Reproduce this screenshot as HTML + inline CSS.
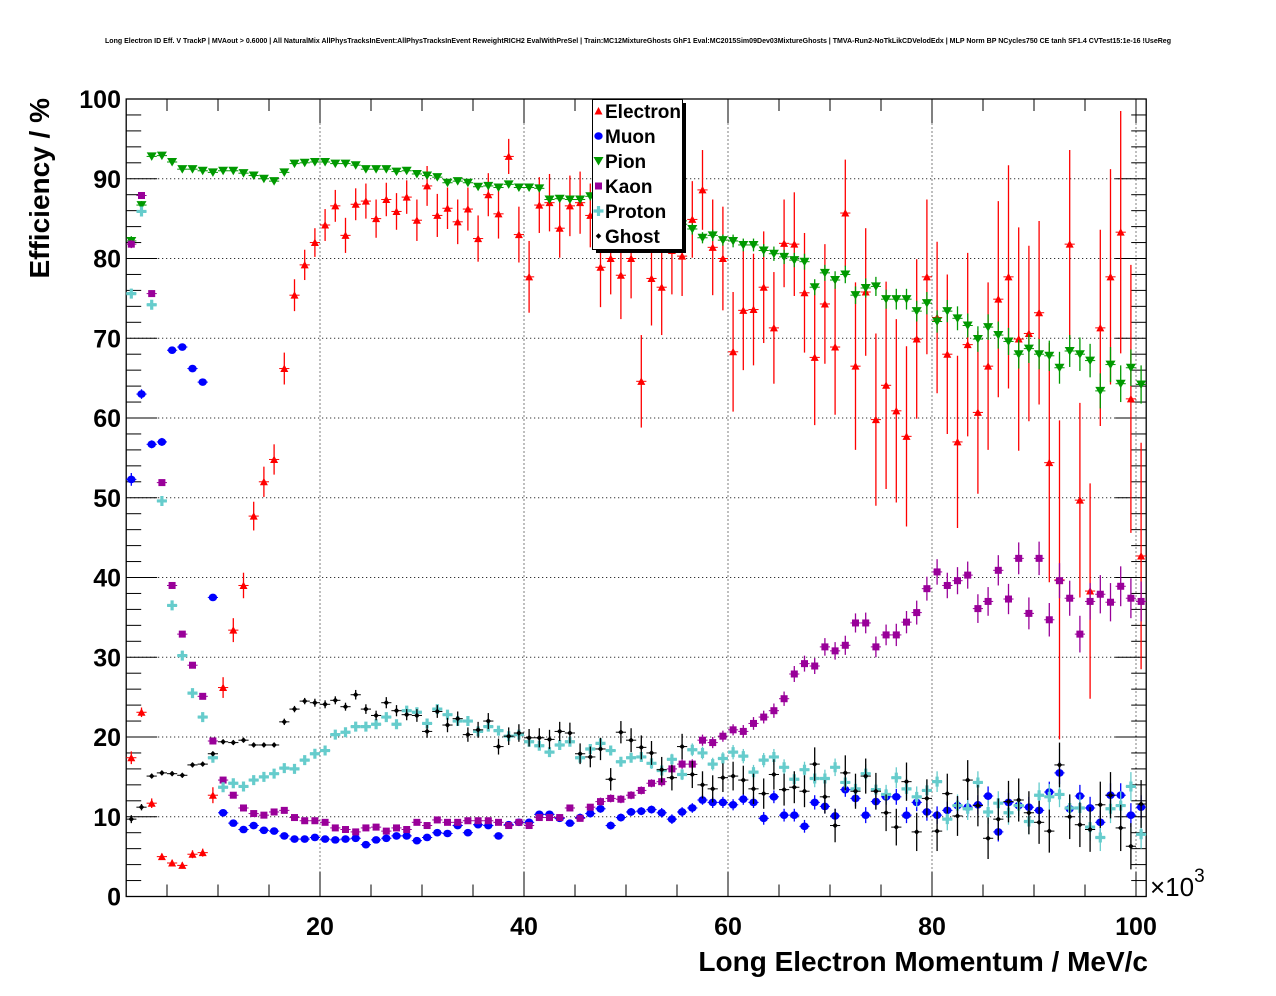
<!DOCTYPE html>
<html><head><meta charset="utf-8">
<style>
html,body{margin:0;padding:0;background:#fff;}
svg{display:block;font-family:"Liberation Sans",Arial,sans-serif;}
</style></head>
<body>
<svg id="chart" width="1276" height="996" viewBox="0 0 1276 996" xmlns="http://www.w3.org/2000/svg">
<rect x="0" y="0" width="1276" height="996" fill="#fff"/>
<text x="638" y="43" text-anchor="middle" font-size="7" font-weight="bold" textLength="1066" lengthAdjust="spacingAndGlyphs">Long Electron ID Eff. V TrackP | MVAout &gt; 0.6000 | All NaturalMix AllPhysTracksInEvent:AllPhysTracksInEvent ReweightRICH2 EvalWithPreSel | Train:MC12MixtureGhosts GhF1 Eval:MC2015Sim09Dev03MixtureGhosts | TMVA-Run2-NoTkLikCDVelodEdx | MLP Norm BP NCycles750 CE tanh SF1.4 CVTest15:1e-16 !UseReg</text>
<g id="grid"></g>
<g id="axes"></g>
<g id="series"></g>
<text transform="translate(49,98) rotate(-90)" text-anchor="end" font-size="28" font-weight="bold">Efficiency / %</text>
<text x="1148" y="971" text-anchor="end" font-size="28" font-weight="bold">Long Electron Momentum / MeV/c</text>
<text x="1150" y="896" font-size="26">×10<tspan font-size="19" dy="-14">3</tspan></text>
<g id="legend">
<rect x="596" y="103" width="90" height="150" fill="#000"/>
<rect x="592.5" y="99.5" width="90" height="150" fill="#fff" stroke="#000" stroke-width="1"/>
</g>
</svg>
<script>
const categories = [];
for (let i = 1; i <= 100; i++) categories.push(i + 0.5);
const electron = [17.4,23.1,11.7,5.0,4.2,3.9,5.3,5.5,12.7,26.2,33.4,39.0,47.7,52.0,54.8,66.2,75.4,79.2,82.0,84.2,86.6,82.9,86.8,87.2,85.0,87.4,85.9,87.7,84.8,89.1,85.4,86.3,84.6,86.2,82.5,88.0,85.6,92.8,83.0,77.7,86.7,87.0,83.8,86.6,87.0,85.4,78.9,80.0,77.9,80.0,64.6,77.5,76.4,81.0,80.3,84.9,88.6,81.4,80.0,68.3,73.5,73.6,76.4,71.3,81.9,81.8,75.7,67.6,74.3,68.9,85.7,66.5,75.8,59.8,64.1,60.9,57.7,69.9,77.7,72.6,68.0,57.0,69.2,60.7,66.5,74.9,77.7,69.9,70.6,73.2,54.4,39.7,81.8,49.7,38.3,71.3,77.7,83.3,62.4,42.7];
const electronErr = [0.8,0.6,0.6,0.4,0.4,0.4,0.5,0.5,1.0,1.3,1.5,1.6,1.8,1.9,1.9,2.0,2.0,1.9,1.8,2.0,2.0,2.2,2.0,2.2,2.4,2.1,2.3,2.1,2.6,2.5,2.7,2.6,2.8,2.7,2.9,2.7,3.1,2.2,3.5,4.5,3.5,3.6,3.7,3.8,3.9,4.0,5.0,4.5,5.5,5.0,5.8,5.9,6.0,5.5,5.0,4.8,5.0,6.0,6.5,7.5,7.5,7.0,7.0,7.0,5.5,6.5,7.5,8.5,7.5,8.5,6.7,10.5,8.0,10.8,13.0,11.5,11.3,10.0,9.7,9.5,10.0,10.8,11.5,10.2,10.5,12.3,14.0,14.0,11.0,11.5,15.0,20.0,11.8,12.2,13.5,12.3,13.5,15.2,16.8,14.2];
const muon = [52.3,63.0,56.7,57.0,68.5,68.9,66.2,64.5,37.5,10.5,9.2,8.4,8.9,8.3,8.2,7.6,7.2,7.2,7.4,7.2,7.1,7.2,7.3,6.5,7.1,7.3,7.6,7.6,7.0,7.4,8.0,7.9,8.9,8.0,9.0,8.9,7.6,9.0,9.3,9.3,10.3,10.3,9.8,9.2,9.9,10.4,11.0,8.9,9.9,10.6,10.7,10.9,10.5,9.7,10.6,11.1,12.1,11.8,11.8,11.5,12.2,11.8,9.8,12.5,10.2,10.2,8.8,11.8,11.3,10.1,13.4,12.3,10.2,11.9,12.5,12.5,10.2,11.8,10.6,10.2,10.8,11.4,11.2,11.5,12.6,8.1,11.8,11.4,11.2,10.8,13.1,15.5,11.0,12.6,11.1,9.3,12.7,12.7,10.2,11.2];
const muonErr = [0.8,0.6,0.5,0.5,0.4,0.4,0.4,0.4,0.4,0.3,0.3,0.3,0.3,0.3,0.3,0.3,0.3,0.3,0.3,0.3,0.3,0.3,0.3,0.3,0.3,0.3,0.3,0.3,0.3,0.3,0.3,0.3,0.3,0.3,0.3,0.3,0.4,0.4,0.4,0.4,0.4,0.4,0.4,0.4,0.5,0.5,0.5,0.5,0.5,0.5,0.5,0.5,0.6,0.6,0.6,0.6,0.6,0.7,0.7,0.7,0.7,0.7,0.8,0.8,0.8,0.8,0.8,0.9,0.9,0.9,0.9,1.0,1.0,1.0,1.0,1.0,1.0,1.1,1.1,1.1,1.1,1.1,1.2,1.2,1.2,1.2,1.2,1.3,1.3,1.3,1.3,1.4,1.4,1.4,1.4,1.5,1.5,1.5,1.5,1.5];
const pion = [82.2,86.7,92.8,92.9,92.1,91.2,91.2,91.0,90.8,91.0,91.0,90.7,90.4,90.0,89.7,90.8,91.9,92.0,92.1,92.1,91.9,91.9,91.7,91.2,91.2,91.2,90.9,91.0,90.6,90.4,90.2,89.5,89.7,89.5,89.0,89.1,88.9,89.3,88.9,88.9,88.8,87.4,87.5,87.4,87.4,87.8,87.3,87.0,86.7,86.3,86.0,85.6,85.2,84.8,84.3,83.7,82.6,82.9,82.3,82.2,81.7,81.7,81.0,80.6,80.2,79.8,79.6,76.4,78.2,77.3,78.0,75.4,76.3,76.5,74.9,74.9,74.9,73.4,74.4,72.1,73.4,72.5,71.6,69.9,71.4,70.4,69.6,68.0,68.7,68.0,67.8,66.3,68.4,68.0,67.2,63.4,66.7,64.3,66.3,64.2];
const pionErr = [0.6,0.5,0.3,0.3,0.3,0.3,0.3,0.3,0.3,0.3,0.3,0.3,0.3,0.3,0.3,0.3,0.3,0.3,0.3,0.3,0.3,0.3,0.3,0.3,0.3,0.3,0.3,0.3,0.3,0.3,0.3,0.3,0.3,0.3,0.3,0.3,0.3,0.3,0.4,0.4,0.4,0.4,0.4,0.4,0.4,0.5,0.5,0.5,0.5,0.5,0.5,0.6,0.6,0.6,0.6,0.7,0.7,0.7,0.7,0.8,0.8,0.8,0.8,0.9,0.9,0.9,1.0,1.0,1.0,1.1,1.1,1.1,1.2,1.2,1.2,1.3,1.3,1.3,1.4,1.4,1.4,1.5,1.5,1.6,1.6,1.7,1.7,1.8,1.8,1.9,1.9,2.0,2.0,2.1,2.1,2.2,2.2,2.3,2.3,2.4];
const kaon = [81.8,87.9,75.6,51.9,39.0,32.9,29.0,25.1,19.5,14.6,12.7,11.1,10.4,10.2,10.6,10.8,9.9,9.5,9.5,9.3,8.6,8.4,8.1,8.6,8.7,8.2,8.6,8.4,9.3,8.9,9.6,9.3,9.3,9.5,9.5,9.5,9.3,8.9,9.3,8.9,9.9,9.9,9.9,11.1,9.8,11.2,11.9,12.3,12.2,12.7,13.3,14.2,14.4,16.0,16.6,16.6,19.6,19.3,20.1,20.9,20.7,21.7,22.5,23.3,24.8,27.9,29.2,28.9,31.3,30.8,31.5,34.3,34.3,31.3,32.8,32.8,34.4,35.6,38.6,40.7,39.0,39.6,40.3,36.1,37.0,40.9,37.3,42.4,35.5,42.4,34.7,39.6,37.4,32.9,37.0,37.9,36.9,38.9,37.4,37.0];
const kaonErr = [0.5,0.4,0.4,0.4,0.4,0.3,0.3,0.3,0.3,0.3,0.3,0.3,0.3,0.3,0.3,0.3,0.3,0.3,0.3,0.3,0.3,0.3,0.3,0.3,0.3,0.3,0.3,0.3,0.3,0.3,0.3,0.3,0.3,0.3,0.3,0.3,0.3,0.3,0.3,0.3,0.4,0.4,0.4,0.4,0.4,0.4,0.5,0.5,0.5,0.5,0.5,0.5,0.6,0.6,0.6,0.6,0.7,0.7,0.7,0.7,0.8,0.8,0.8,0.9,0.9,1.0,1.0,1.0,1.1,1.1,1.2,1.2,1.3,1.3,1.3,1.4,1.4,1.5,1.5,1.6,1.6,1.7,1.7,1.8,1.8,1.9,1.9,2.0,2.0,2.1,2.1,2.2,2.2,2.3,2.3,2.4,2.4,2.5,2.5,2.5];
const proton = [75.6,85.9,74.2,49.6,36.5,30.2,25.5,22.5,17.4,13.7,14.2,13.8,14.6,15.0,15.4,16.1,16.0,17.1,17.9,18.3,20.3,20.6,21.3,21.3,21.6,22.5,21.6,23.3,23.1,21.7,23.5,22.8,22.0,22.0,20.7,21.3,20.8,20.1,20.3,19.4,18.9,18.1,19.0,19.4,17.4,18.5,19.2,18.3,16.9,17.4,17.5,16.7,15.8,17.2,15.3,18.4,18.0,16.6,17.3,18.1,17.6,15.6,17.1,17.5,16.2,14.7,15.9,14.8,14.8,16.2,14.3,13.5,15.4,13.4,12.8,14.9,13.5,12.5,13.3,14.4,9.7,11.4,11.0,14.3,10.6,11.7,10.5,11.4,9.4,12.7,12.5,12.8,11.1,11.1,8.7,7.4,11.0,11.4,13.8,7.8];
const protonErr = [0.6,0.5,0.5,0.4,0.4,0.3,0.3,0.3,0.3,0.3,0.3,0.3,0.3,0.3,0.3,0.3,0.3,0.3,0.3,0.3,0.3,0.3,0.3,0.3,0.3,0.3,0.3,0.3,0.3,0.3,0.3,0.3,0.3,0.4,0.4,0.4,0.4,0.4,0.4,0.4,0.5,0.5,0.5,0.5,0.5,0.5,0.6,0.6,0.6,0.6,0.6,0.7,0.7,0.7,0.7,0.8,0.8,0.8,0.8,0.9,0.9,0.9,0.9,1.0,1.0,1.0,1.0,1.1,1.1,1.1,1.1,1.2,1.2,1.2,1.2,1.3,1.3,1.3,1.3,1.3,1.4,1.4,1.4,1.4,1.5,1.5,1.5,1.5,1.6,1.6,1.6,1.6,1.7,1.7,1.7,1.7,1.8,1.8,1.8,1.8];
const ghost = [9.7,11.2,15.1,15.5,15.4,15.2,16.5,16.6,17.9,19.4,19.3,19.6,19.0,19.0,19.0,21.9,23.5,24.5,24.3,24.1,24.6,23.8,25.3,23.5,22.7,24.3,23.3,22.8,22.7,20.7,23.2,21.5,22.3,20.3,20.9,22.0,18.8,20.1,20.5,19.9,19.9,19.7,20.7,20.5,17.9,17.5,18.5,14.7,20.6,19.6,18.7,18.0,15.9,14.9,18.8,15.3,14.0,13.5,14.9,15.1,14.6,13.5,12.9,15.3,13.4,13.7,13.2,16.6,12.5,8.9,15.5,13.2,15.1,13.2,10.5,8.7,14.4,8.1,12.3,8.2,12.9,10.1,14.6,11.4,7.3,9.7,11.9,12.1,10.5,9.3,8.2,16.5,10.0,9.0,8.4,11.5,12.7,8.6,6.3,11.6];
const ghostErr = [0.5,0.4,0.3,0.3,0.3,0.3,0.3,0.3,0.3,0.3,0.3,0.3,0.3,0.3,0.3,0.4,0.4,0.4,0.5,0.5,0.5,0.5,0.6,0.6,0.6,0.7,0.7,0.7,0.8,0.8,0.8,0.9,0.9,0.9,1.0,1.0,1.0,1.1,1.1,1.1,1.2,1.2,1.2,1.3,1.3,1.3,1.4,1.4,1.4,1.5,1.5,1.5,1.6,1.6,1.6,1.7,1.7,1.7,1.8,1.8,1.8,1.9,1.9,1.9,2.0,2.0,2.0,2.1,2.1,2.1,2.2,2.2,2.2,2.3,2.3,2.3,2.4,2.4,2.4,2.5,2.5,2.5,2.5,2.6,2.6,2.6,2.6,2.7,2.7,2.7,2.7,2.8,2.8,2.8,2.8,2.9,2.9,2.9,2.9,3.0];
const yTicks = [0,10,20,30,40,50,60,70,80,90,100];
const xTicks = [20,40,60,80,100];
const legendLabels = ["Electron","Muon","Pion","Kaon","Proton","Ghost"];

const NS = "http://www.w3.org/2000/svg";
const X0 = 1, X1 = 101, PX0 = 126.2, PX1 = 1146.2;
const Y0 = 0, Y1 = 100, PY0 = 896.5, PY1 = 99;
function xs(v){ return PX0 + (v - X0) * (PX1 - PX0) / (X1 - X0); }
function ys(v){ return PY0 + (v - Y0) * (PY1 - PY0) / (Y1 - Y0); }
function mk(tag, attrs, parent){
  const e = document.createElementNS(NS, tag);
  for (const k in attrs) e.setAttribute(k, attrs[k]);
  parent.appendChild(e);
  return e;
}
const grid = document.getElementById('grid');
const axes = document.getElementById('axes');
const seriesG = document.getElementById('series');

for (const t of yTicks) {
  if (t === 0 || t === 100) continue;
  const l = mk('line', {x1:PX0, x2:PX1, y1:ys(t), y2:ys(t), stroke:'#000', 'stroke-width':1, 'stroke-dasharray':'1,3'}, grid);
  
  
}
for (const t of xTicks) {
  const l = mk('line', {x1:xs(t), x2:xs(t), y1:PY0, y2:PY1, stroke:'#000', 'stroke-width':1, 'stroke-dasharray':'1,3'}, grid);
  
  
}
const frame = mk('rect', {x:PX0, y:PY1, width:PX1-PX0, height:PY0-PY1, fill:'none', stroke:'#000', 'stroke-width':1.3}, axes);


for (let v = 0; v <= 100; v += 2) {
  const major = v % 10 === 0;
  const len = major ? 31 : 15;
  const y = ys(v);
  const a = mk('line', {x1:PX0, x2:PX0+len, y1:y, y2:y, stroke:'#000', 'stroke-width':1}, axes);
  
  
  const b = mk('line', {x1:PX1, x2:PX1-len, y1:y, y2:y, stroke:'#000', 'stroke-width':1}, axes);
  
  
}
for (const t of yTicks) {
  const tx = mk('text', {x:121, y:ys(t)+9, 'text-anchor':'end', 'font-size':25, 'font-weight':'bold'}, axes);
  tx.textContent = t;
  
  
}
for (let v = 5; v <= 100; v += 5) {
  const major = v % 20 === 0;
  const len = major ? 24 : 12;
  const x = xs(v);
  const a = mk('line', {x1:x, x2:x, y1:PY0, y2:PY0-len, stroke:'#000', 'stroke-width':1}, axes);
  
  
  const b = mk('line', {x1:x, x2:x, y1:PY1, y2:PY1+len, stroke:'#000', 'stroke-width':1}, axes);
  
  
}
for (const t of xTicks) {
  const tx = mk('text', {x:xs(t), y:935, 'text-anchor':'middle', 'font-size':25, 'font-weight':'bold'}, axes);
  tx.textContent = t;
  
  
}

function marker(g, type, color, x, y) {
  let m;
  if (type === 'tri-up') m = mk('polygon', {points:`${x-4},${y+3.5} ${x+4},${y+3.5} ${x},${y-4}`, fill:color}, g);
  else if (type === 'tri-down') m = mk('polygon', {points:`${x-5},${y-4} ${x+5},${y-4} ${x},${y+4.5}`, fill:color}, g);
  else if (type === 'circle') m = mk('ellipse', {cx:x, cy:y, rx:4.2, ry:3.8, fill:color}, g);
  else if (type === 'square') m = mk('rect', {x:x-3.5, y:y-3.5, width:7, height:7, fill:color}, g);
  else if (type === 'cross') m = mk('path', {d:`M${x-5},${y-1.6}h3.4v-3.4h3.2v3.4h3.4v3.2h-3.4v3.4h-3.2v-3.4h-3.4z`, fill:color}, g);
  else m = mk('polygon', {points:`${x-2.8},${y} ${x},${y-2.8} ${x+2.8},${y} ${x},${y+2.8}`, fill:color}, g);
  return m;
}
const seriesDefs = [
  {name:'electron', vals:electron, errs:electronErr, color:'#ff0000', type:'tri-up'},
  {name:'muon', vals:muon, errs:muonErr, color:'#0000ff', type:'circle'},
  {name:'pion', vals:pion, errs:pionErr, color:'#009900', type:'tri-down'},
  {name:'kaon', vals:kaon, errs:kaonErr, color:'#990099', type:'square'},
  {name:'proton', vals:proton, errs:protonErr, color:'#66cccc', type:'cross'},
  {name:'ghost', vals:ghost, errs:ghostErr, color:'#000000', type:'diamond'}
];
for (const s of seriesDefs) {
  const g = mk('g', {}, seriesG);
  
  
  for (let i = 0; i < s.vals.length; i++) {
    const c = categories[i];
    const v = s.vals[i], e = s.errs[i];
    const x = xs(c), y = ys(v);
    const hb = mk('line', {x1:xs(c-0.5), x2:xs(c+0.5), y1:y, y2:y, stroke:s.color, 'stroke-width':1}, g);
    
    
    const vb = mk('line', {x1:x, x2:x, y1:ys(Math.max(0, v-e)), y2:ys(Math.min(100, v+e)), stroke:s.color, 'stroke-width':1.3}, g);
    
    
    const m = marker(g, s.type, s.color, x, y);
    
    
  }
}
const legend = document.getElementById('legend');
const legY = [111, 136, 161, 186, 211, 236];
for (let i = 0; i < seriesDefs.length; i++) {
  const s = seriesDefs[i];
  const g = mk('g', {}, legend);
  
  
  const m = marker(g, s.type, s.color, 598.5, legY[i]);
  
  
  const t = mk('text', {x:605, y:legY[i]+7, 'font-size':19, 'font-weight':'bold'}, g);
  t.textContent = legendLabels[i];
  
  
}
</script>
</body></html>
